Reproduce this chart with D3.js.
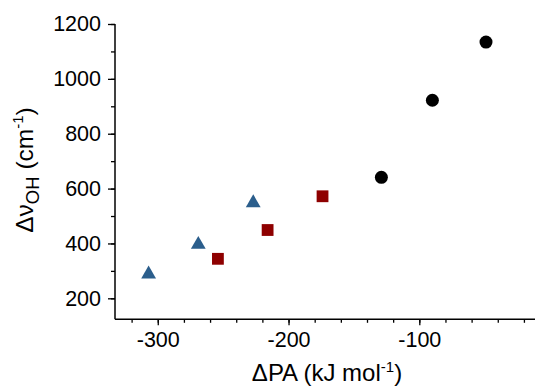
<!DOCTYPE html>
<html><head><meta charset="utf-8">
<script src="https://cdn.jsdelivr.net/npm/d3@7"></script>
<style>body{margin:0;background:#fff}svg{display:block}text{font-family:"Liberation Sans",Arial,sans-serif;fill:#000}</style>
</head><body>
<script>
const triX = [-307, -269, -227];
const triY = [288, 396, 548];
const sqX = [-254, -216, -174];
const sqY = [344, 449, 572];
const cirX = [-129, -90, -49];
const cirY = [641, 922, 1134];
const xMajor = [-300, -200, -100];
const yMajor = [200, 400, 600, 800, 1000, 1200];

const W = 535, H = 386;
const svg = d3.select("body").append("svg").attr("width", W).attr("height", H);
const x = d3.scaleLinear().domain([-332.7, -10]).range([115, 537]);
const y = d3.scaleLinear().domain([123.5, 1200]).range([319.3, 24]);

const g = svg.append("g");
const xMinor = d3.range(-320, -10, 20);
const yMinor = d3.range(200, 1201, 100);
const fmt = d => String(d);
const xa = g.append("g").attr("transform", `translate(0,${y.range()[0]})`)
  .call(d3.axisBottom(x).tickValues(xMinor).tickSize(3.5).tickFormat(""));
const ya = g.append("g").attr("transform", `translate(${x.range()[0]},0)`)
  .call(d3.axisLeft(y).tickValues(yMinor).tickSize(4).tickFormat(""));
const xaM = g.append("g").attr("transform", `translate(0,${y.range()[0]})`)
  .call(d3.axisBottom(x).tickValues(xMajor).tickSize(6).tickPadding(6).tickFormat(fmt));
const yaM = g.append("g").attr("transform", `translate(${x.range()[0]},0)`)
  .call(d3.axisLeft(y).tickValues(yMajor).tickSize(7).tickPadding(7).tickFormat(fmt));
[xa, ya, xaM, yaM].forEach(a => {
  a.selectAll("path.domain").remove();
  a.selectAll(".tick line").attr("stroke", "#000").attr("stroke-width", 1.3);
  a.selectAll(".tick text").attr("font-size", 21.5).attr("font-family", "Liberation Sans, Arial, sans-serif").attr("fill", "#000");
});
g.append("line").attr("x1", x.range()[0]).attr("x2", x.range()[0]).attr("y1", y.range()[0]).attr("y2", y(1200))
  .attr("stroke", "#000").attr("stroke-width", 1.5);
g.append("line").attr("x1", x.range()[0]).attr("x2", W).attr("y1", y.range()[0]).attr("y2", y.range()[0])
  .attr("stroke", "#000").attr("stroke-width", 1.5);

// markers
const tri = d3.symbol().type(d3.symbolTriangle).size(95);
g.selectAll("path.tri").data(triX.map((v, i) => [v, triY[i]])).join("path")
  .attr("class", "tri").attr("d", tri).attr("fill", "#2b5e8c")
  .attr("transform", d => `translate(${x(d[0])},${y(d[1])})`);
const s = 11.8;
g.selectAll("rect.sq").data(sqX.map((v, i) => [v, sqY[i]])).join("rect")
  .attr("class", "sq").attr("x", d => x(d[0]) - s / 2).attr("y", d => y(d[1]) - s / 2)
  .attr("width", s).attr("height", s).attr("fill", "#8e0000");
g.selectAll("circle.c").data(cirX.map((v, i) => [v, cirY[i]])).join("circle")
  .attr("class", "c").attr("cx", d => x(d[0])).attr("cy", d => y(d[1])).attr("r", 6.5).attr("fill", "#000");

// axis titles
const xt = svg.append("text").attr("x", 327).attr("y", 380.5).attr("text-anchor", "middle").attr("font-size", 24);
xt.append("tspan").text("ΔPA (kJ mol");
xt.append("tspan").attr("font-size", 15).attr("dy", -9).text("-1");
xt.append("tspan").attr("dy", 9).text(")");

const yt = svg.append("text").attr("transform", "translate(33,170) rotate(-90)").attr("text-anchor", "middle").attr("font-size", 24.5);
yt.append("tspan").text("Δν");
yt.append("tspan").attr("font-size", 18.5).attr("dy", 6).text("OH");
yt.append("tspan").attr("dy", -6).text(" (cm");
yt.append("tspan").attr("font-size", 15).attr("dy", -10).text("-1");
yt.append("tspan").attr("dy", 10).text(")");
</script>
</body></html>
